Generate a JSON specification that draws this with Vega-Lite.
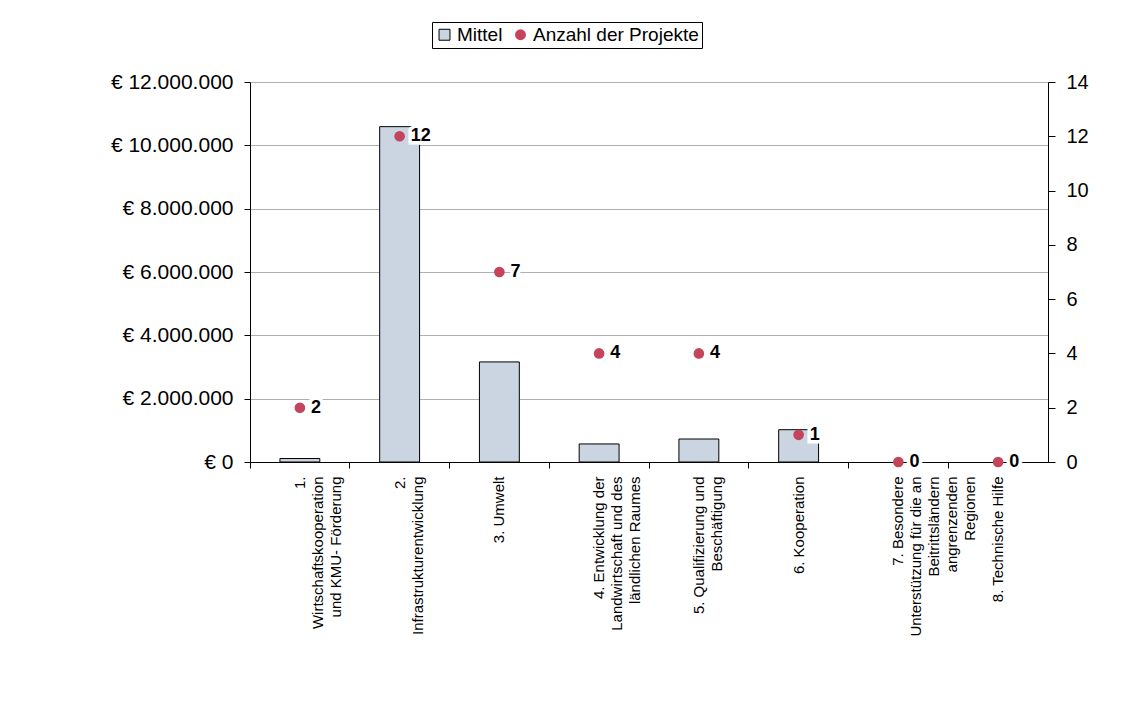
{
  "$schema": "https://vega.github.io/schema/vega-lite/v6.json",
  "width": 798,
  "height": 380,
  "autosize": {"type": "none"},
  "padding": {"left": 250, "top": 82, "right": 86, "bottom": 246},
  "background": "white",
  "config": {
    "font": "Liberation Sans",
    "view": {"stroke": null},
    "locale": {
      "number": {"decimal": ",", "thousands": ".", "grouping": [3], "currency": ["€ ", ""]}
    },
    "axis": {"domainColor": "black", "tickColor": "black", "labelColor": "black"},
    "legend": {
      "title": null,
      "orient": "none",
      "legendX": 182,
      "legendY": -60,
      "direction": "horizontal",
      "strokeColor": "black",
      "fillColor": "white",
      "padding": 3,
      "labelFontSize": 19,
      "labelColor": "black",
      "labelLimit": 400,
      "labelOffset": 3,
      "columnPadding": 8,
      "symbolSize": 120,
      "symbolStrokeWidth": 1
    }
  },
  "data": {
    "values": [
      {"Schwerpunkt": "1.\u00a0\u00a0\u00a0\u00a0\u00a0\u00a0\u00a0\u00a0\u00a0\u00a0\u00a0\u00a0\u00a0\u00a0\u00a0\u00a0\u00a0\nWirtschaftskooperation\nund KMU- Förderung\u00a0", "Mittel": 110000, "Projekte": 2},
      {"Schwerpunkt": "2.\u00a0\u00a0\u00a0\u00a0\u00a0\u00a0\u00a0\u00a0\u00a0\u00a0\u00a0\u00a0\u00a0\u00a0\u00a0\u00a0\u00a0\nInfrastrukturentwicklung", "Mittel": 10590000, "Projekte": 12},
      {"Schwerpunkt": "3. Umwelt", "Mittel": 3160000, "Projekte": 7},
      {"Schwerpunkt": "4. Entwicklung der\u00a0\u00a0\u00a0\u00a0\nLandwirtschaft und des\nländlichen Raumes\u00a0\u00a0\u00a0", "Mittel": 570000, "Projekte": 4},
      {"Schwerpunkt": "5. Qualifizierung und\nBeschäftigung\u00a0\u00a0\u00a0\u00a0\u00a0", "Mittel": 726000, "Projekte": 4},
      {"Schwerpunkt": "6. Kooperation", "Mittel": 1020000, "Projekte": 1},
      {"Schwerpunkt": "7. Besondere\u00a0\u00a0\u00a0\u00a0\u00a0\u00a0\u00a0\u00a0\nUnterstützung für die an\nBeitrittsländern\u00a0\u00a0\u00a0\u00a0\u00a0\u00a0\u00a0\nangrenzenden\u00a0\u00a0\u00a0\u00a0\u00a0\u00a0\u00a0\u00a0\nRegionen\u00a0\u00a0\u00a0\u00a0\u00a0\u00a0\u00a0\u00a0\u00a0\u00a0\u00a0", "Mittel": 0, "Projekte": 0},
      {"Schwerpunkt": "8. Technische Hilfe", "Mittel": 0, "Projekte": 0}
    ]
  },
  "encoding": {
    "x": {
      "field": "Schwerpunkt",
      "type": "nominal",
      "sort": null,
      "title": null,
      "scale": {"paddingInner": 0, "paddingOuter": 0},
      "axis": {
        "labelAngle": -90,
        "labelFontSize": 15,
        "labelLineHeight": 18,
        "labelPadding": 8,
        "labelLimit": 400,
        "tickSize": 6,
        "bandPosition": 0,
        "grid": false,
        "labelExpr": "split(datum.label, '\\n')"
      }
    }
  },
  "layer": [
    {
      "transform": [{"filter": "datum.Mittel > 0"}],
      "mark": {"type": "bar", "width": {"band": 0.4}, "strokeWidth": 1},
      "encoding": {
        "y": {
          "field": "Mittel",
          "type": "quantitative",
          "title": null,
          "scale": {"domain": [0, 12000000], "nice": false},
          "axis": {
            "values": [0, 2000000, 4000000, 6000000, 8000000, 10000000, 12000000],
            "format": "$,.0f",
            "labelFontSize": 21,
            "labelPadding": 11,
            "tickSize": 6,
            "grid": true,
            "gridColor": "#B0B0B0"
          }
        },
        "color": {
          "datum": "Mittel",
          "scale": {
            "domain": ["Mittel", "Anzahl der Projekte"],
            "range": ["#CBD4E1", "#C4445C"]
          }
        },
        "stroke": {
          "datum": "Mittel",
          "scale": {
            "domain": ["Mittel", "Anzahl der Projekte"],
            "range": ["black", "transparent"]
          }
        }
      }
    },
    {
      "encoding": {
        "y": {
          "field": "Projekte",
          "type": "quantitative",
          "title": null,
          "scale": {"domain": [0, 14], "nice": false},
          "axis": {
            "orient": "right",
            "values": [0, 2, 4, 6, 8, 10, 12, 14],
            "labelFontSize": 20,
            "labelPadding": 11,
            "tickSize": 7,
            "grid": false
          }
        }
      },
      "layer": [
        {
          "mark": {"type": "point", "filled": true, "size": 113, "opacity": 1},
          "encoding": {
            "color": {"datum": "Anzahl der Projekte"},
            "shape": {
              "datum": "Anzahl der Projekte",
              "scale": {
                "domain": ["Mittel", "Anzahl der Projekte"],
                "range": ["square", "circle"]
              }
            }
          }
        },
        {
          "mark": {
            "type": "text",
            "align": "left",
            "baseline": "middle",
            "dx": 11,
            "fontSize": 18,
            "fontWeight": "bold",
            "fill": "white",
            "stroke": "white",
            "strokeWidth": 7,
            "strokeJoin": "miter"
          },
          "encoding": {"text": {"field": "Projekte", "type": "quantitative"}}
        },
        {
          "mark": {
            "type": "text",
            "align": "left",
            "baseline": "middle",
            "dx": 11,
            "fontSize": 18,
            "fontWeight": "bold",
            "fill": "black"
          },
          "encoding": {"text": {"field": "Projekte", "type": "quantitative"}}
        }
      ]
    }
  ],
  "resolve": {"scale": {"y": "independent"}}
}
